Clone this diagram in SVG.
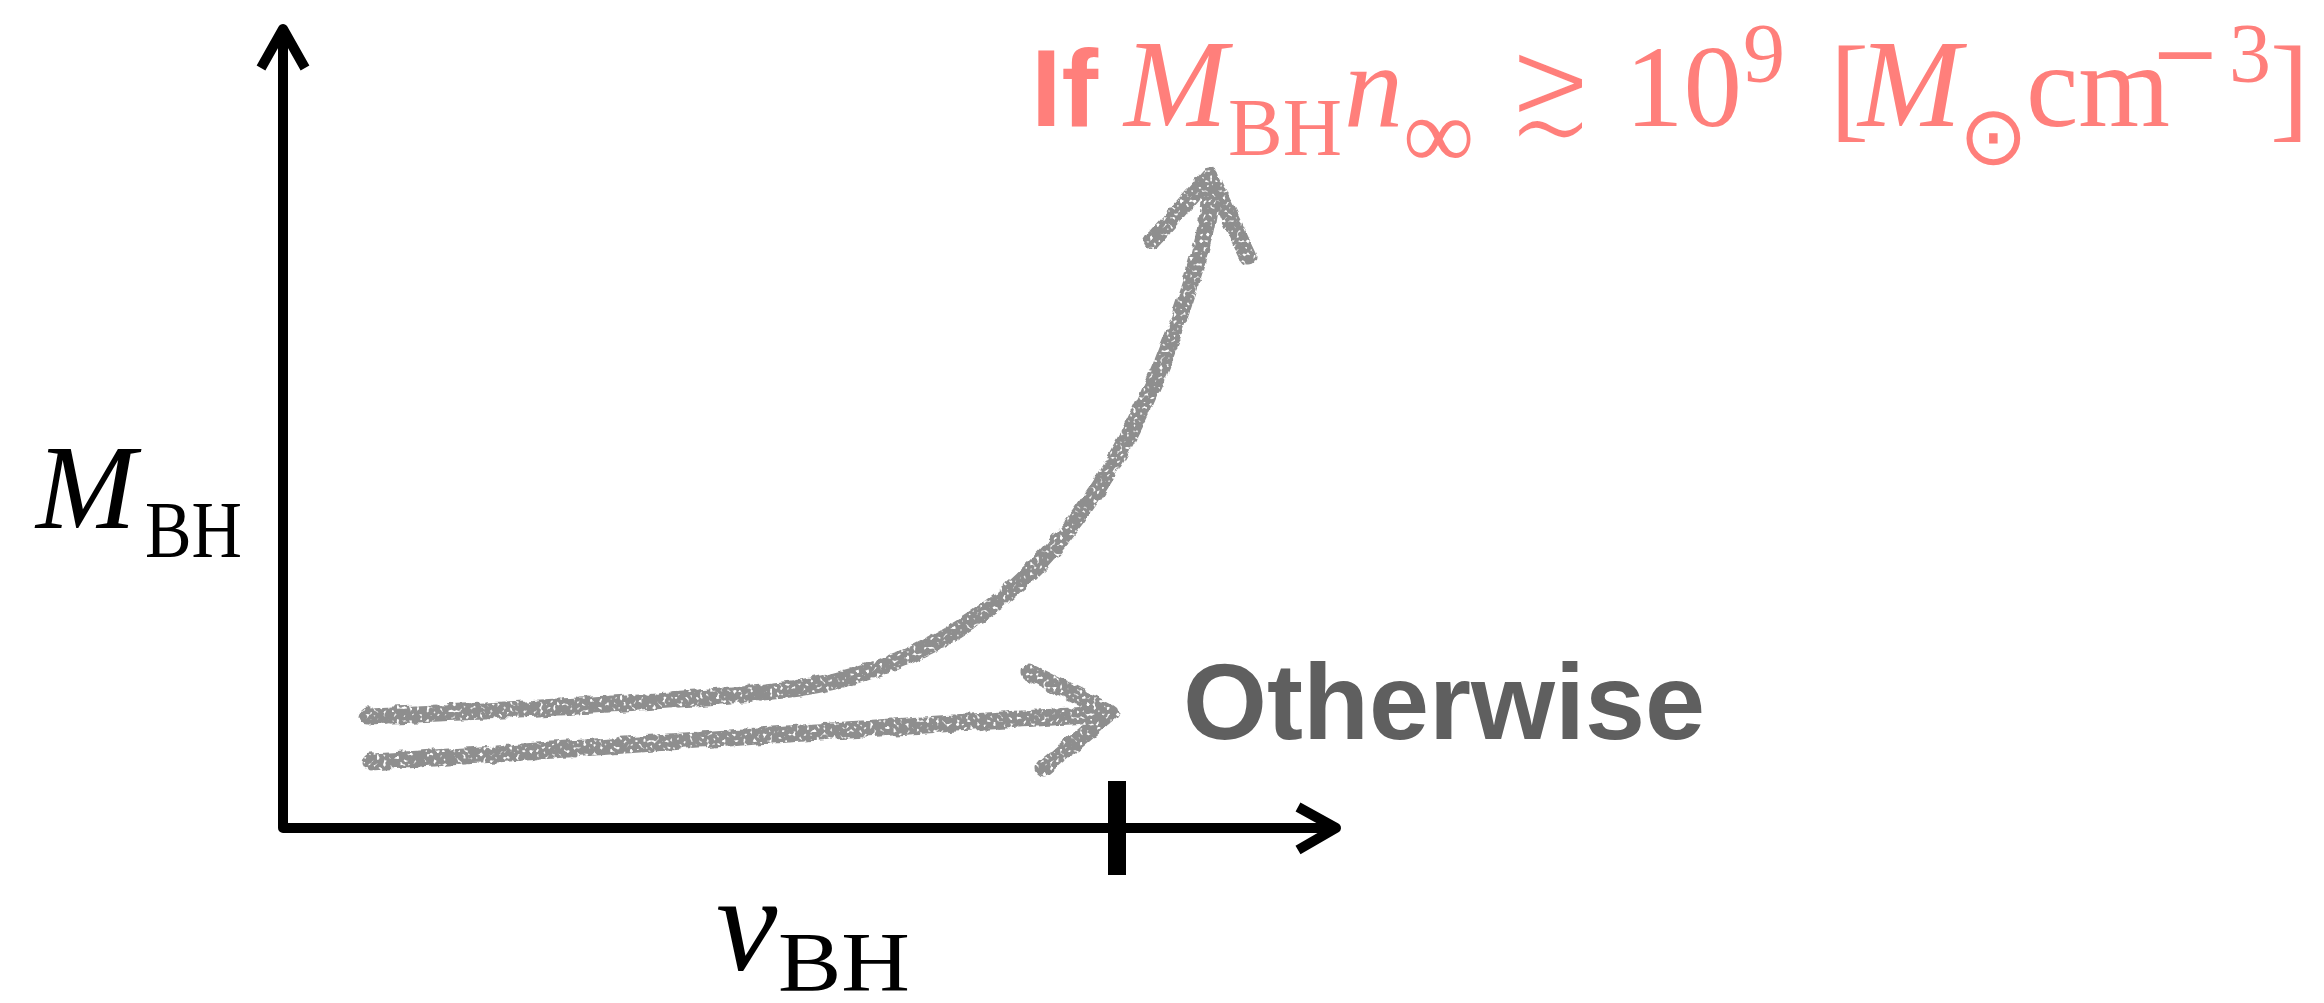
<svg xmlns="http://www.w3.org/2000/svg" width="2324" height="1003" viewBox="0 0 2324 1003">
<style>
.axis{fill:none;stroke:#000;stroke-width:10;stroke-linejoin:round;stroke-linecap:butt}
.chalk{fill:none;stroke:#8e8e8e;stroke-width:17;stroke-linecap:round;stroke-linejoin:round}
.serif{font-family:"Liberation Serif",serif}
.ital{font-style:italic}
.red{fill:#ff7f7b}
.sans{font-family:"Liberation Sans",Arial,sans-serif;font-weight:bold}
</style>
<defs>
<filter id="rough" x="-10%" y="-10%" width="120%" height="120%">
<feTurbulence type="fractalNoise" baseFrequency="0.09" numOctaves="2" seed="3" result="n"/>
<feDisplacementMap in="SourceGraphic" in2="n" scale="7" xChannelSelector="R" yChannelSelector="G" result="d"/>
<feTurbulence type="fractalNoise" baseFrequency="0.3" numOctaves="1" seed="8" result="n2"/>
<feColorMatrix in="n2" type="matrix" values="0 0 0 0 0  0 0 0 0 0  0 0 0 0 0  -8 0 0 0 5.7" result="m"/>
<feComposite in="d" in2="m" operator="in"/>
</filter>
</defs>
<rect width="2324" height="1003" fill="#fff"/>
<g id="axes">
<path class="axis" d="M283,30 L283,828 L1334,828"/>
<path class="axis" d="M261,68 L283,29 L305,68"/>
<path class="axis" d="M1298,807 L1336,828 L1298,850"/>
<rect x="1108" y="781" width="18" height="94" fill="#000"/>
</g>
<g id="label-M">
<text class="serif ital" x="36" y="528" font-size="120">M</text>
<text class="serif" x="145" y="557" font-size="80" textLength="97" lengthAdjust="spacingAndGlyphs">BH</text>
</g>
<g id="label-v">
<text class="serif ital" x="716" y="970" font-size="138">v</text>
<text class="serif" x="778" y="991" font-size="84" textLength="132" lengthAdjust="spacingAndGlyphs">BH</text>
</g>
<g id="connectors" filter="url(#rough)">
<path class="chalk" d="M367,716 C520,710 700,700 800,688 C900,672 980,625 1040,563 C1110,490 1160,380 1185,300 C1200,255 1208,225 1210,200"/>
<path class="chalk" d="M1152,241 L1210,176 L1248,257"/>
<path class="chalk" d="M371,762 C600,748 850,728 1106,714"/>
<path class="chalk" d="M1030,672 L1110,712 L1044,768"/>
</g>
<g id="label-if" class="red">
<text class="sans" x="1031" y="126" font-size="110">If</text>
<text class="serif ital" x="1124" y="126" font-size="124">M</text>
<text class="serif" x="1228" y="155" font-size="82" textLength="114" lengthAdjust="spacingAndGlyphs">BH</text>
<text class="serif ital" x="1344" y="126" font-size="118">n</text>
<text class="serif" x="1403" y="168" font-size="100">∞</text>
<text transform="translate(1506,136) scale(0.95,1.3)" font-size="112" font-family="DejaVu Sans,sans-serif" stroke="#fff" stroke-width="4">≳</text>
<text class="serif" x="1625" y="126" font-size="117">10</text>
<text class="serif" x="1743" y="82" font-size="84">9</text>
<text class="serif" x="1830" y="126" font-size="117">[</text>
<text class="serif ital" x="1858" y="126" font-size="124">M</text>
<text x="1959" y="164" font-size="82" font-family="DejaVu Sans,sans-serif" font-weight="200">⊙</text>
<text class="serif" x="2026" y="126" font-size="118">cm</text>
<text x="2150" y="82" font-size="84" font-family="DejaVu Serif,serif">−</text>
<text class="serif" x="2229" y="82" font-size="84">3</text>
<text class="serif" x="2270" y="126" font-size="117">]</text>
</g>
<g id="label-otherwise">
<text class="sans" x="1183" y="739" font-size="108" fill="#5f5f5f">Otherwise</text>
</g>
</svg>
